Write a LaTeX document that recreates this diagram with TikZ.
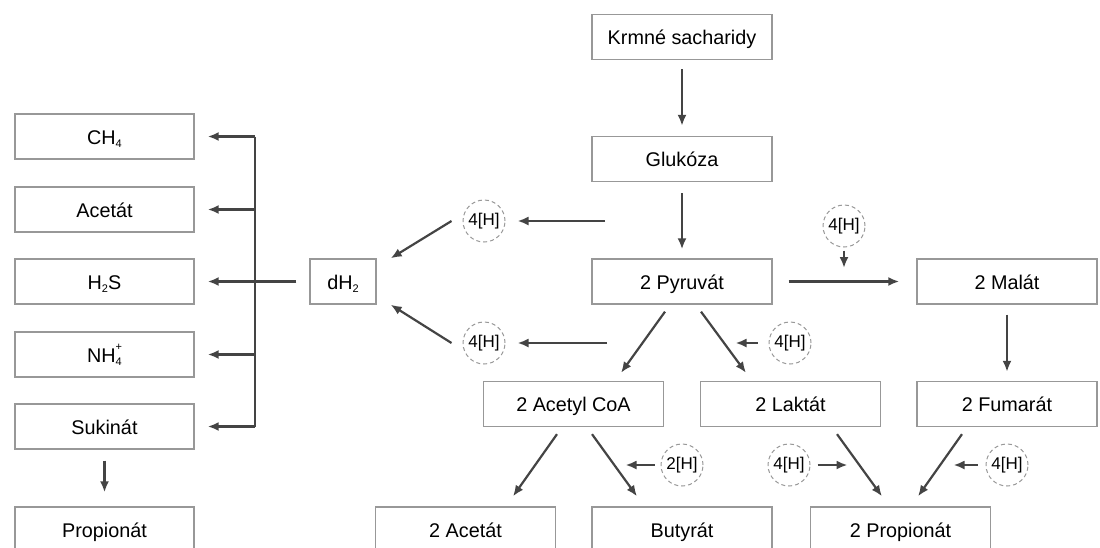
\documentclass[tikz,border=0pt]{standalone}
\usepackage{fontspec}
\setmainfont{Liberation Sans}
\usetikzlibrary{arrows.meta}
\definecolor{boxc}{HTML}{989898}
\definecolor{arrc}{HTML}{444444}
\newcommand{\lowsub}[1]{\raisebox{-0.35ex}{\fontsize{11}{12}\selectfont #1}}
\newcommand{\nhfour}{NH\rlap{\raisebox{1.1ex}{\fontsize{11}{12}\selectfont +}}\lowsub{4}}
\begin{document}
\begin{tikzpicture}[x=1pt,y=-1pt,
  font=\fontsize{19.8}{23}\selectfont,
  box/.style={draw=boxc, line width=1.3pt, minimum width=180pt, minimum height=45pt, inner sep=0pt, text height=16pt, text depth=1pt, anchor=center},
  hc/.style={circle, draw=boxc, dash pattern=on 4pt off 3pt, line width=1pt, minimum size=42pt, inner sep=0pt, font=\fontsize{17}{19}\selectfont},
  arr/.style={draw=arrc, line width=2.2pt, -{Latex[length=11pt,width=9pt]}},
  con/.style={draw=arrc, line width=2.2pt}]
\useasboundingbox (0,0) rectangle (1100,547);
\clip (0,0) rectangle (1100,547);
% right part boxes
\node[box] (krm) at (682,37) {Krmné sacharidy};
\node[box] (glu) at (682,159) {Glukóza};
\node[box] (pyr) at (682,281.5) {2 Pyruvát};
\node[box] (mal) at (1007,281.5) {2 Malát};
\node[box] (acc) at (573.5,404) {2 Acetyl CoA};
\node[box] (lak) at (790.5,404) {2 Laktát};
\node[box] (fum) at (1007,404) {2 Fumarát};
\node[box] (ace2) at (465.5,529.5) {2 Acetát};
\node[box] (but) at (682,529.5) {Butyrát};
\node[box] (pro2) at (900.5,529.5) {2 Propionát};
% left column
\node[box, minimum width=179pt] (ch4) at (104.5,136.5) {CH\lowsub{4}};
\node[box, minimum width=179pt] (acet) at (104.5,209.5) {Acetát};
\node[box, minimum width=179pt] (h2s) at (104.5,281.5) {H\lowsub{2}S};
\node[box, minimum width=179pt] (nh4) at (104.5,354.5) {\nhfour};
\node[box, minimum width=179pt] (suk) at (104.5,426.5) {Sukinát};
\node[box, minimum width=179pt] (prop) at (104.5,529.5) {Propionát};
\node[box, minimum width=66pt] (dh2) at (343,281.5) {dH\lowsub{2}};
% hydrogen circles
\node[hc] (h1) at (484,221) {4[H]};
\node[hc] (h2) at (484,343) {4[H]};
\node[hc] (h3) at (844,226) {4[H]};
\node[hc] (h4) at (790,343) {4[H]};
\node[hc] (h5) at (682,465) {2[H]};
\node[hc] (h6) at (789,465) {4[H]};
\node[hc] (h7) at (1007,465) {4[H]};
\coordinate (a1) at (605,221);
\coordinate (a2) at (607,343);
\coordinate (a3) at (844,268);
\coordinate (bus) at (255,0);
% main chain
\draw[arr, shorten <=9pt, shorten >=10pt] (krm.south) -- (glu.north);
\draw[arr, shorten <=11pt, shorten >=9pt] (glu.south) -- (pyr.north);
\draw[arr, shorten <=16pt, shorten >=17pt] (pyr.east) -- (mal.west);
\draw[arr, shorten <=10pt, shorten >=9pt] (mal.south) -- (fum.north);
\draw[arr] ([shift={(-17,7)}]pyr.south) -- ([shift={(47.5,-8)}]acc.north);
\draw[arr] ([shift={(19,7)}]pyr.south) -- ([shift={(-44.5,-8)}]lak.north);
\draw[arr] ([shift={(-16.5,7)}]acc.south) -- ([shift={(47.5,-10)}]ace2.north);
\draw[arr] ([shift={(18.5,7)}]acc.south) -- ([shift={(-45,-10)}]but.north);
\draw[arr] ([shift={(46.5,7)}]lak.south) -- ([shift={(-18.5,-10)}]pro2.north);
\draw[arr] ([shift={(-45,7)}]fum.south) -- ([shift={(17.5,-10)}]pro2.north);
% hydrogen arrows
\draw[arr, shorten >=12pt] (a1) -- (h1);
\draw[arr, shorten >=12pt] (a2) -- (h2);
\draw[arr] ([xshift=-11pt]h1.west) -- ([xshift=14pt]dh2.north east);
\draw[arr] ([xshift=-11pt]h2.west) -- ([xshift=14pt]dh2.south east);
\draw[arr, shorten <=3pt] (h3.south) -- (a3);
\draw[arr] ([xshift=-11pt]h4.west) -- ([xshift=-33pt]h4.west);
\draw[arr] ([xshift=-6pt]h5.west) -- ([xshift=-35pt]h5.west);
\draw[arr] ([xshift=7pt]h6.east) -- ([xshift=37pt]h6.east);
\draw[arr] ([xshift=-8pt]h7.west) -- ([xshift=-32pt]h7.west);
% left distribution
\draw[arr] ([xshift=-13pt]dh2.west) -- ([xshift=13pt]h2s.east);
\draw[con] (bus |- ch4) -- (bus |- suk);
\draw[arr] (bus |- ch4) -- ([xshift=13pt]ch4.east);
\draw[arr] (bus |- acet) -- ([xshift=13pt]acet.east);
\draw[arr] (bus |- nh4) -- ([xshift=13pt]nh4.east);
\draw[arr] (bus |- suk) -- ([xshift=13pt]suk.east);
\draw[arr, shorten <=11pt, shorten >=14pt] (suk.south) -- (prop.north);
\end{tikzpicture}
\end{document}
